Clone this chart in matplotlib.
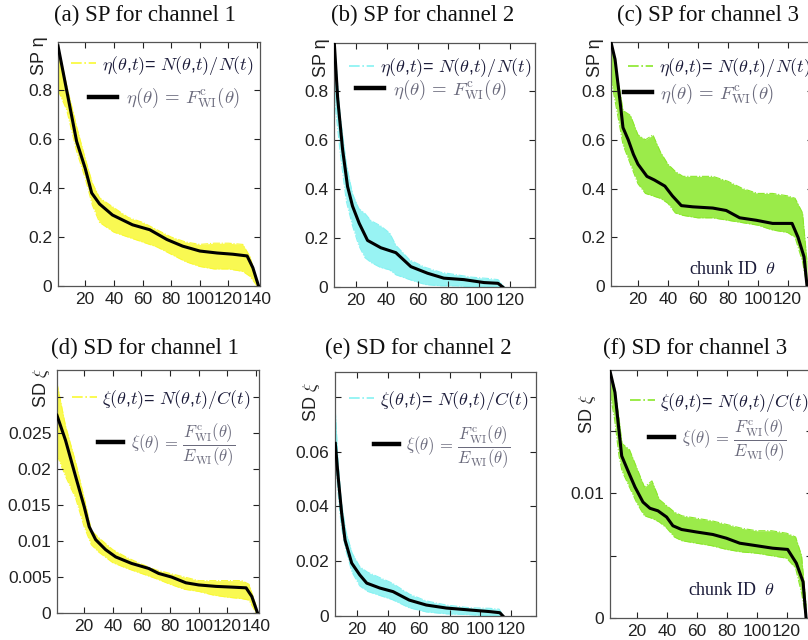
import matplotlib
matplotlib.use("Agg")
import matplotlib.pyplot as plt
from matplotlib.lines import Line2D

plt.rcParams['font.family'] = ['Liberation Sans', 'DejaVu Sans']
plt.rcParams['mathtext.fontset'] = 'cm'

# ---- data ----
# (a) SP channel 1
th_a = [1, 7, 14, 20, 24.5, 30, 39, 53, 65, 77, 88, 100, 112, 123, 133, 137, 141]
sp_a = [0.98, 0.8, 0.59, 0.48, 0.38, 0.335, 0.29, 0.25, 0.23, 0.19, 0.163, 0.143, 0.135, 0.13, 0.123, 0.075, 0.0]
band_th_a = [1, 7, 14, 20, 25, 30, 40, 50, 60, 70, 80, 90, 100, 110, 120, 130, 135, 140]
up_a = [0.98, 0.82, 0.65, 0.52, 0.42, 0.36, 0.32, 0.28, 0.26, 0.23, 0.2, 0.18, 0.17, 0.175, 0.175, 0.17, 0.12, 0.02]
lo_a = [0.8, 0.72, 0.55, 0.44, 0.33, 0.26, 0.22, 0.2, 0.18, 0.16, 0.13, 0.1, 0.08, 0.07, 0.07, 0.06, 0.04, 0.0]

# (b) SP channel 2
th_b = [6.2, 8.4, 11.6, 14.8, 18, 22.3, 27.7, 36.3, 46, 55.7, 66.5, 77, 90, 103, 112, 115]
sp_b = [1.0, 0.77, 0.56, 0.41, 0.33, 0.26, 0.19, 0.16, 0.14, 0.083, 0.056, 0.036, 0.03, 0.018, 0.015, 0.0]
band_th_b = [6.2, 10, 14, 18, 22, 26, 30, 36, 42, 46, 55, 65, 75, 85, 95, 105, 112, 116]
up_b = [1.0, 0.7, 0.5, 0.38, 0.32, 0.3, 0.27, 0.25, 0.22, 0.17, 0.11, 0.08, 0.06, 0.05, 0.04, 0.035, 0.03, 0.0]
lo_b = [0.78, 0.55, 0.35, 0.25, 0.17, 0.12, 0.1, 0.08, 0.07, 0.05, 0.03, 0.01, 0.005, 0.005, 0.0, 0.0, 0.0, 0.0]

# (c) SP channel 3
th_c = [2, 4.7, 8, 10, 13.5, 17, 20, 26, 31, 38, 43, 49, 56.7, 70, 79, 88, 99, 110, 123, 127, 131, 133]
sp_c = [1.0, 0.93, 0.76, 0.65, 0.6, 0.54, 0.5, 0.45, 0.435, 0.41, 0.37, 0.33, 0.325, 0.32, 0.31, 0.28, 0.27, 0.257, 0.257, 0.2, 0.12, 0.0]
band_th_c = [2, 5, 8, 10, 15, 20, 25, 30, 35, 40, 45, 50, 60, 70, 80, 90, 100, 110, 120, 125, 130, 133]
up_c = [1.0, 0.9, 0.8, 0.72, 0.7, 0.62, 0.6, 0.62, 0.55, 0.5, 0.47, 0.45, 0.45, 0.45, 0.43, 0.4, 0.38, 0.38, 0.37, 0.36, 0.3, 0.1]
lo_c = [0.85, 0.75, 0.65, 0.58, 0.5, 0.42, 0.38, 0.37, 0.36, 0.34, 0.3, 0.29, 0.28, 0.28, 0.27, 0.26, 0.25, 0.23, 0.22, 0.2, 0.1, 0.0]

# (d) SD channel 1
th_d = [1, 7, 14, 20, 23.5, 28, 35, 42, 53, 65, 72, 81, 91, 100, 112, 123, 133, 137, 141]
sd_d = [0.0275, 0.024, 0.019, 0.0148, 0.012, 0.0102, 0.0088, 0.0078, 0.0069, 0.0062, 0.0055, 0.005, 0.0042, 0.0039, 0.0037, 0.0036, 0.0035, 0.0023, 0.0]
band_th_d = [1, 7, 14, 20, 25, 30, 40, 50, 60, 70, 80, 90, 100, 110, 120, 130, 135, 140]
up_d = [0.032, 0.026, 0.021, 0.016, 0.0115, 0.0105, 0.0088, 0.0077, 0.0068, 0.006, 0.0055, 0.005, 0.0045, 0.0045, 0.0045, 0.0045, 0.004, 0.001]
lo_d = [0.022, 0.019, 0.016, 0.012, 0.0095, 0.0085, 0.007, 0.0062, 0.0055, 0.0048, 0.004, 0.0033, 0.003, 0.0025, 0.0022, 0.002, 0.0018, 0.0]

# (e) SD channel 2
th_e = [6.2, 8, 10.3, 12.5, 16.8, 22, 26.5, 35, 43.5, 54, 65, 78, 93, 106, 112.5, 114.5]
sd_e = [0.063, 0.051, 0.0375, 0.0277, 0.0193, 0.015, 0.012, 0.0102, 0.0089, 0.0058, 0.004, 0.0029, 0.0022, 0.0016, 0.0012, 0.0]
band_th_e = [6.2, 8, 10, 13, 17, 22, 27, 35, 43, 54, 65, 78, 93, 106, 112, 115]
up_e = [0.075, 0.056, 0.042, 0.031, 0.023, 0.018, 0.016, 0.014, 0.012, 0.008, 0.0055, 0.004, 0.003, 0.0028, 0.0025, 0.0]
lo_e = [0.058, 0.045, 0.033, 0.024, 0.016, 0.011, 0.009, 0.0075, 0.006, 0.003, 0.0015, 0.0008, 0.0005, 0.0, 0.0, 0.0]

# (f) SD channel 3
th_f = [2, 5.3, 7.3, 9.8, 14, 18.7, 24, 28.7, 34, 39.8, 44, 49.8, 59.8, 70.7, 79.8, 88.7, 99.8, 110.7, 120.7, 126.5, 131, 133]
sd_f = [0.0198, 0.0181, 0.0158, 0.013, 0.0118, 0.0105, 0.0093, 0.0088, 0.0086, 0.0081, 0.0074, 0.0071, 0.0069, 0.0067, 0.0064, 0.006, 0.0058, 0.0056, 0.0055, 0.0044, 0.0029, 0.0]
band_th_f = [2, 5, 8, 10, 15, 20, 25, 30, 35, 40, 45, 50, 60, 70, 80, 90, 100, 110, 120, 126, 130, 133]
up_f = [0.0198, 0.0185, 0.016, 0.014, 0.0135, 0.012, 0.0105, 0.011, 0.0095, 0.009, 0.0085, 0.0082, 0.008, 0.0078, 0.0075, 0.0072, 0.007, 0.007, 0.0068, 0.0065, 0.005, 0.001]
lo_f = [0.018, 0.016, 0.013, 0.0118, 0.0105, 0.0092, 0.0082, 0.008, 0.0077, 0.0072, 0.0065, 0.0062, 0.006, 0.0058, 0.0055, 0.0053, 0.0052, 0.005, 0.0048, 0.004, 0.002, 0.0]

titles = ["(a) SP for channel 1", "(b) SP for channel 2", "(c) SP for channel 3",
          "(d) SD for channel 1", "(e) SD for channel 2", "(f) SD for channel 3"]

sp_ticks = [0, 0.2, 0.4, 0.6, 0.8]
sp_ticklabels = ["0", "0.2", "0.4", "0.6", "0.8"]
d_ticks = [0, 0.005, 0.01, 0.015, 0.02, 0.025, 0.03]
d_ticklabels = ["0", "0.005", "0.01", "0.015", "0.02", "0.025", ""]
e_ticks = [0, 0.02, 0.04, 0.06, 0.08]
e_ticklabels = ["0", "0.02", "0.04", "0.06", ""]
f_ticks = [0, 0.005, 0.01, 0.015]
f_ticklabels = ["0", "", "0.01", ""]
x140 = [20, 40, 60, 80, 100, 120, 140]
x120 = [20, 40, 60, 80, 100, 120]

yellow = '#f9f934'
cyan = '#86f2f2'
green = '#8ae82a'

fig = plt.figure(figsize=(8.08, 6.4), dpi=100)

panels = [
    dict(pos=[0.0718, 0.553, 0.25, 0.381], th=th_a, y=sp_a, bt=band_th_a, up=up_a, lo=lo_a,
         col=yellow, xlim=(1, 142), ylim=(0, 0.995), yt=sp_ticks, ytl=sp_ticklabels, xt=x140, kind='sp',
         leg1=(0.965, 0.906), leg2=(0.9, 0.77)),
    dict(pos=[0.4133, 0.5516, 0.249, 0.381], th=th_b, y=sp_b, bt=band_th_b, up=up_b, lo=lo_b,
         col=cyan, xlim=(6, 136), ylim=(0, 0.995), yt=sp_ticks, ytl=sp_ticklabels, xt=x120, kind='sp',
         leg1=(0.98, 0.9), leg2=(0.86, 0.81)),
    dict(pos=[0.7562, 0.553, 0.25, 0.381], th=th_c, y=sp_c, bt=band_th_c, up=up_c, lo=lo_c,
         col=green, xlim=(2, 137), ylim=(0, 1.0), yt=sp_ticks, ytl=sp_ticklabels, xt=x120, kind='sp',
         leg1=(0.985, 0.895), leg2=(0.81, 0.79)),
    dict(pos=[0.0705, 0.0422, 0.25, 0.3797], th=th_d, y=sd_d, bt=band_th_d, up=up_d, lo=lo_d,
         col=yellow, xlim=(1, 142), ylim=(0, 0.0338), yt=d_ticks, ytl=d_ticklabels, xt=x140, kind='sd',
         leg1=(0.96, 0.88), leg2=(0.88, 0.695)),
    dict(pos=[0.4146, 0.0375, 0.249, 0.381], th=th_e, y=sd_e, bt=band_th_e, up=up_e, lo=lo_e,
         col=cyan, xlim=(6, 136), ylim=(0, 0.089), yt=e_ticks, ytl=e_ticklabels, xt=x120, kind='sd',
         leg1=(0.96, 0.885), leg2=(0.87, 0.695)),
    dict(pos=[0.755, 0.0344, 0.25, 0.3875], th=th_f, y=sd_f, bt=band_th_f, up=up_f, lo=lo_f,
         col=green, xlim=(2, 137), ylim=(0, 0.0199), yt=f_ticks, ytl=f_ticklabels, xt=x120, kind='sd',
         leg1=(0.985, 0.87), leg2=(0.87, 0.72)),
]

title_xy = [(145, 15), (423, 15), (708, 15), (145, 348), (418, 348), (695, 348)]
ylab_xy = [(40, 56), (322, 58), (596, 58), (41, 388), (312, 402), (588, 414)]
serif = ['Liberation Serif', 'DejaVu Serif']

for i, p in enumerate(panels):
    ax = fig.add_axes(p['pos'])
    ax.fill_between(p['bt'], p['lo'], p['up'], color=p['col'], alpha=0.85, lw=0, zorder=1)
    ax.plot(p['bt'], p['up'], color=p['col'], lw=0.8, ls='-.', zorder=1)
    ax.plot(p['bt'], p['lo'], color=p['col'], lw=0.8, ls='-.', zorder=1)
    ax.plot(p['th'], p['y'], color='black', lw=2.2, zorder=3)
    ax.set_xlim(*p['xlim'])
    ax.set_ylim(*p['ylim'])
    ax.set_xticks(p['xt'])
    ax.set_yticks(p['yt'])
    ax.set_yticklabels(p['ytl'])
    ax.tick_params(direction='in', top=True, right=True, length=4, width=0.8,
                   labelsize=12.5, colors='#222222', pad=4)
    for s in ax.spines.values():
        s.set_color('#555555')
        s.set_linewidth(0.9)

    h1 = Line2D([], [], color=p['col'], lw=1.2, ls='-.')
    h2 = Line2D([], [], color='black', lw=3.2)
    if p['kind'] == 'sp':
        l1 = r"$\eta(\theta$,$t)$= $N(\theta$,$t)/N(t)$"
        l2 = r"$\eta(\theta)\,=\,F^{\rm c}_{\rm WI}(\theta)$"
        fs2 = 13.5
    else:
        l1 = r"$\xi(\theta$,$t)$= $N(\theta$,$t)/C(t)$"
        l2 = r"$\xi(\theta)\,=\,\dfrac{F^{\rm c}_{\rm WI}(\theta)}{E_{\rm WI}(\theta)}$"
        fs2 = 12
    leg1 = ax.legend([h1], [l1], loc='center right', frameon=False, bbox_to_anchor=p['leg1'],
                     fontsize=13, handlelength=1.4, handletextpad=0.3, borderaxespad=0, borderpad=0)
    leg1.get_texts()[0].set_color('#1c1c3a')
    ax.add_artist(leg1)
    leg2 = ax.legend([h2], [l2], loc='center right', frameon=False, bbox_to_anchor=p['leg2'],
                     fontsize=fs2, handlelength=1.5, handletextpad=0.45, borderaxespad=0, borderpad=0)
    leg2.get_texts()[0].set_color('#6a6a7c')

    if i in (2, 5):
        ax.text(0.6, 0.07 if i == 2 else 0.11, r"chunk ID  $\theta$", transform=ax.transAxes,
                ha='center', va='center', fontsize=13, family=serif, color='#1c1c3a', zorder=4)

    tx, ty = title_xy[i]
    fig.text(tx / 808, 1 - ty / 640, titles[i], ha='center', va='center', fontsize=16.5,
             family=serif, color='#111111')
    lx, ly = ylab_xy[i]
    ylab = "SP η" if p['kind'] == 'sp' else r"SD $\xi$"
    fig.text(lx / 808, 1 - ly / 640, ylab, rotation=90, ha='center', va='center', fontsize=13,
             color='#222222')

fig.savefig("out.png", dpi=100)
